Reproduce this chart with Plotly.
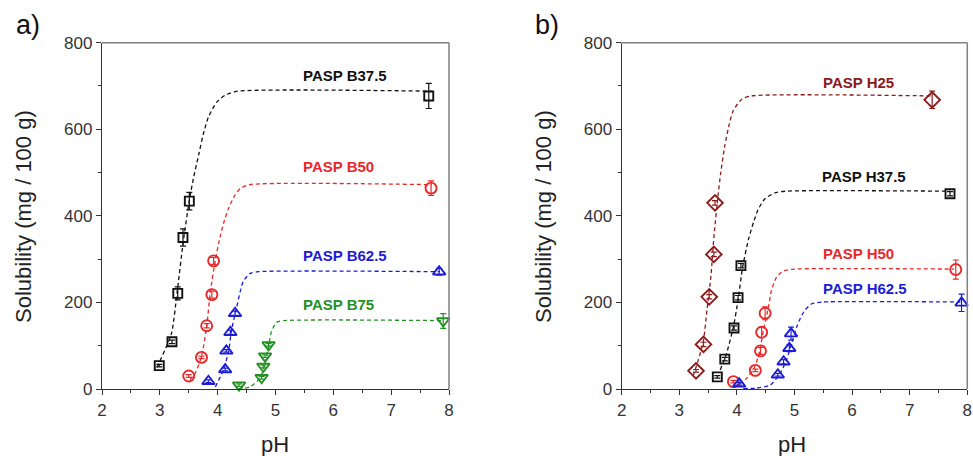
import plotly.graph_objects as go

W, H = 973, 456

# ---- panel a) : PASP B series -------------------------------------------
b_names = ["PASP B37.5", "PASP B50", "PASP B62.5", "PASP B75"]
b_colors = ["#111111", "#e8282b", "#1c1cd6", "#249024"]
b_symbols = ["square-open", "circle-open", "triangle-up-open", "triangle-down-open"]

b375_ph = [2.99, 3.21, 3.31, 3.40, 3.51, 7.65]
b375_sol = [54, 109, 221, 350, 434, 677]
b375_err = [3, 4, 15, 20, 20, 29]

b50_ph = [3.50, 3.72, 3.81, 3.90, 3.93, 7.69]
b50_sol = [30, 73, 146, 218, 296, 464]
b50_err = [3, 3, 5, 8, 8, 17]

b625_ph = [3.84, 4.13, 4.15, 4.22, 4.30, 7.83]
b625_sol = [18, 45, 88, 131, 175, 271]
b625_err = [3, 3, 3, 5, 5, 8]

b75_ph = [4.37, 4.76, 4.79, 4.82, 4.88, 7.90]
b75_sol = [9, 26, 52, 76, 102, 157]
b75_err = [3, 3, 3, 3, 3, 17]

# fitted curves (dashed), sampled along the fit
b375_fit_ph = [2.95, 3.20, 3.30, 3.40, 3.51, 3.58, 3.67, 3.75, 3.84, 3.98, 4.13, 4.35, 7.70]
b375_fit_sol = [50, 128, 225, 335, 436, 486, 540, 588, 628, 662, 679, 688, 688]
b50_fit_ph = [3.52, 3.61, 3.72, 3.81, 3.87, 3.96, 4.04, 4.10, 4.19, 4.30, 4.39, 4.55, 7.70]
b50_fit_sol = [21, 36, 75, 144, 221, 298, 350, 382, 418, 448, 463, 472, 472]
b625_fit_ph = [3.96, 4.10, 4.19, 4.24, 4.33, 4.39, 4.44, 4.56, 4.70, 7.84]
b625_fit_sol = [5, 44, 88, 136, 190, 225, 248, 267, 271, 271]
b75_fit_ph = [4.35, 4.56, 4.73, 4.82, 4.88, 4.93, 5.02, 5.15, 7.90]
b75_fit_sol = [0, 5, 25, 59, 98, 133, 154, 158, 158]

b_label_ph = [6.20, 6.09, 6.20, 6.09]
b_label_sol = [725, 513, 309, 196]

# ---- panel b) : PASP H series -------------------------------------------
h_names = ["PASP H25", "PASP H37.5", "PASP H50", "PASP H62.5"]
h_colors = ["#8b1a1a", "#111111", "#e8282b", "#1c1cd6"]
h_symbols = ["diamond-open", "square-open", "circle-open", "triangle-up-open"]

h25_ph = [3.29, 3.42, 3.52, 3.60, 3.62, 7.39]
h25_sol = [42, 103, 213, 311, 430, 668]
h25_err = [3, 5, 5, 5, 5, 20]

h375_ph = [3.66, 3.79, 3.95, 4.02, 4.07, 7.70]
h375_sol = [28, 69, 141, 211, 285, 451]
h375_err = [3, 4, 5, 5, 5, 5]

h50_ph = [3.94, 4.32, 4.41, 4.43, 4.49, 7.80]
h50_sol = [17, 43, 88, 131, 175, 276]
h50_err = [3, 3, 8, 12, 15, 22]

h625_ph = [4.04, 4.71, 4.81, 4.91, 4.94, 7.90]
h625_sol = [12, 33, 63, 94, 128, 199]
h625_err = [3, 3, 5, 8, 15, 20]

h25_fit_ph = [3.24, 3.33, 3.42, 3.48, 3.55, 3.60, 3.67, 3.72, 3.79, 3.87, 3.94, 4.08, 4.25, 7.41]
h25_fit_sol = [30, 67, 112, 182, 262, 350, 444, 500, 562, 613, 644, 669, 677, 677]
h375_fit_ph = [3.71, 3.82, 3.94, 4.02, 4.10, 4.20, 4.30, 4.37, 4.49, 4.66, 4.85, 7.70]
h375_fit_sol = [44, 82, 144, 205, 282, 345, 390, 415, 440, 453, 457, 457]
h50_fit_ph = [3.93, 4.06, 4.17, 4.31, 4.40, 4.46, 4.55, 4.60, 4.69, 4.81, 5.00, 7.77]
h50_fit_sol = [5, 13, 25, 51, 90, 136, 190, 228, 259, 273, 277, 277]
h625_fit_ph = [4.11, 4.34, 4.58, 4.75, 4.86, 4.95, 5.04, 5.10, 5.18, 5.30, 5.50, 7.88]
h625_fit_sol = [1, 2, 9, 36, 67, 105, 144, 163, 182, 197, 201, 201]

h_label_ph = [6.11, 6.21, 6.11, 6.22]
h_label_sol = [709, 492, 312, 232]

x_ticks = [2, 3, 4, 5, 6, 7, 8]
y_ticks = [0, 200, 400, 600, 800]

panels = [
    dict(xa="x", ya="y", names=b_names, colors=b_colors, symbols=b_symbols,
         pts=[(b375_ph, b375_sol, b375_err), (b50_ph, b50_sol, b50_err),
              (b625_ph, b625_sol, b625_err), (b75_ph, b75_sol, b75_err)],
         fits=[(b375_fit_ph, b375_fit_sol), (b50_fit_ph, b50_fit_sol),
               (b625_fit_ph, b625_fit_sol), (b75_fit_ph, b75_fit_sol)],
         lx=b_label_ph, ly=b_label_sol),
    dict(xa="x2", ya="y2", names=h_names, colors=h_colors, symbols=h_symbols,
         pts=[(h25_ph, h25_sol, h25_err), (h375_ph, h375_sol, h375_err),
              (h50_ph, h50_sol, h50_err), (h625_ph, h625_sol, h625_err)],
         fits=[(h25_fit_ph, h25_fit_sol), (h375_fit_ph, h375_fit_sol),
               (h50_fit_ph, h50_fit_sol), (h625_fit_ph, h625_fit_sol)],
         lx=h_label_ph, ly=h_label_sol),
]

marker_sizes = {"square-open": 9, "circle-open": 11, "triangle-up-open": 11,
                "triangle-down-open": 11, "diamond-open": 12}

fig = go.Figure()
annotations = []

for p in panels:
    # dashed fit curves underneath
    for (fx, fy), c in zip(p["fits"], p["colors"]):
        fig.add_trace(go.Scatter(
            x=fx, y=fy, mode="lines", xaxis=p["xa"], yaxis=p["ya"],
            line=dict(color=c, width=1.3, dash="4px,3px", shape="spline", smoothing=0.6),
            hoverinfo="skip", showlegend=False, cliponaxis=False))
    # measured points with error bars
    for (px_, py_, pe), c, s, n in zip(p["pts"], p["colors"], p["symbols"], p["names"]):
        fig.add_trace(go.Scatter(
            x=px_, y=py_, mode="markers", name=n, xaxis=p["xa"], yaxis=p["ya"],
            marker=dict(symbol=s, size=marker_sizes[s], color=c, line=dict(color=c, width=1.9)),
            error_y=dict(type="data", array=pe, visible=True, color=c, thickness=1.2, width=3),
            showlegend=False, cliponaxis=False))
    # series labels
    for n, c, lx, ly in zip(p["names"], p["colors"], p["lx"], p["ly"]):
        annotations.append(dict(
            x=lx, y=ly, xref=p["xa"], yref=p["ya"], text="<b>%s</b>" % n,
            showarrow=False, font=dict(size=15, color=c, family="Liberation Sans, Arial")))

x_dom_a = [102 / W, 449 / W]
x_dom_b = [621.7 / W, 967.3 / W]
y_dom = [(H - 389) / H, (H - 42.7) / H]

axis_common = dict(showline=True, linecolor="#333333", linewidth=1.3, mirror=False,
                   ticks="outside", ticklen=5, tickwidth=1.2, tickcolor="#333333",
                   showgrid=False, zeroline=False, automargin=False,
                   tickfont=dict(size=17, color="#333333", family="Liberation Sans, Arial"))

def xaxis(dom, anchor):
    return dict(axis_common, domain=dom, anchor=anchor, range=[2, 8], tickvals=x_ticks,
                minor=dict(ticks="outside", ticklen=3, tickcolor="#333333", dtick=0.5, tick0=2,
                           showgrid=False))

def yaxis(anchor):
    return dict(axis_common, domain=y_dom, anchor=anchor, range=[0, 800], tickvals=y_ticks,
                minor=dict(ticks="outside", ticklen=3, tickcolor="#333333", dtick=100, tick0=0,
                           showgrid=False))

# frame: top and right edges in grey
shapes = []
for xa, ya in [("x", "y"), ("x2", "y2")]:
    shapes.append(dict(type="line", xref=xa + " domain", yref=ya + " domain",
                       x0=0, x1=1, y0=1, y1=1, line=dict(color="#808080", width=1.5)))
    shapes.append(dict(type="line", xref=xa + " domain", yref=ya + " domain",
                       x0=1, x1=1, y0=0, y1=1, line=dict(color="#808080", width=1.5)))

def paper(px_, py_):
    return px_ / W, 1 - py_ / H

title_font = dict(size=22, color="#222222", family="Liberation Sans, Arial")
for (tx, ty), txt, ang in [((23, 217), "Solubility (mg / 100 g)", -90),
                            ((543, 217), "Solubility (mg / 100 g)", -90),
                            ((275, 444), "pH", 0),
                            ((792, 444), "pH", 0)]:
    xx, yy = paper(tx, ty)
    annotations.append(dict(x=xx, y=yy, xref="paper", yref="paper", text=txt,
                            textangle=ang, showarrow=False, font=title_font,
                            xanchor="center", yanchor="middle"))

for (tx, ty), txt in [((28, 25), "a)"), ((547, 25), "b)")]:
    xx, yy = paper(tx, ty)
    annotations.append(dict(x=xx, y=yy, xref="paper", yref="paper", text=txt,
                            showarrow=False, xanchor="center", yanchor="middle",
                            font=dict(size=27, color="#111111", family="Liberation Sans, Arial")))

fig.update_layout(
    width=W, height=H, autosize=False,
    margin=dict(l=0, r=0, t=0, b=0, autoexpand=False),
    paper_bgcolor="white", plot_bgcolor="white",
    xaxis=xaxis(x_dom_a, "y"), yaxis=yaxis("x"),
    xaxis2=xaxis(x_dom_b, "y2"), yaxis2=yaxis("x2"),
    annotations=annotations, shapes=shapes, showlegend=False,
)

fig.write_html("out.html")
